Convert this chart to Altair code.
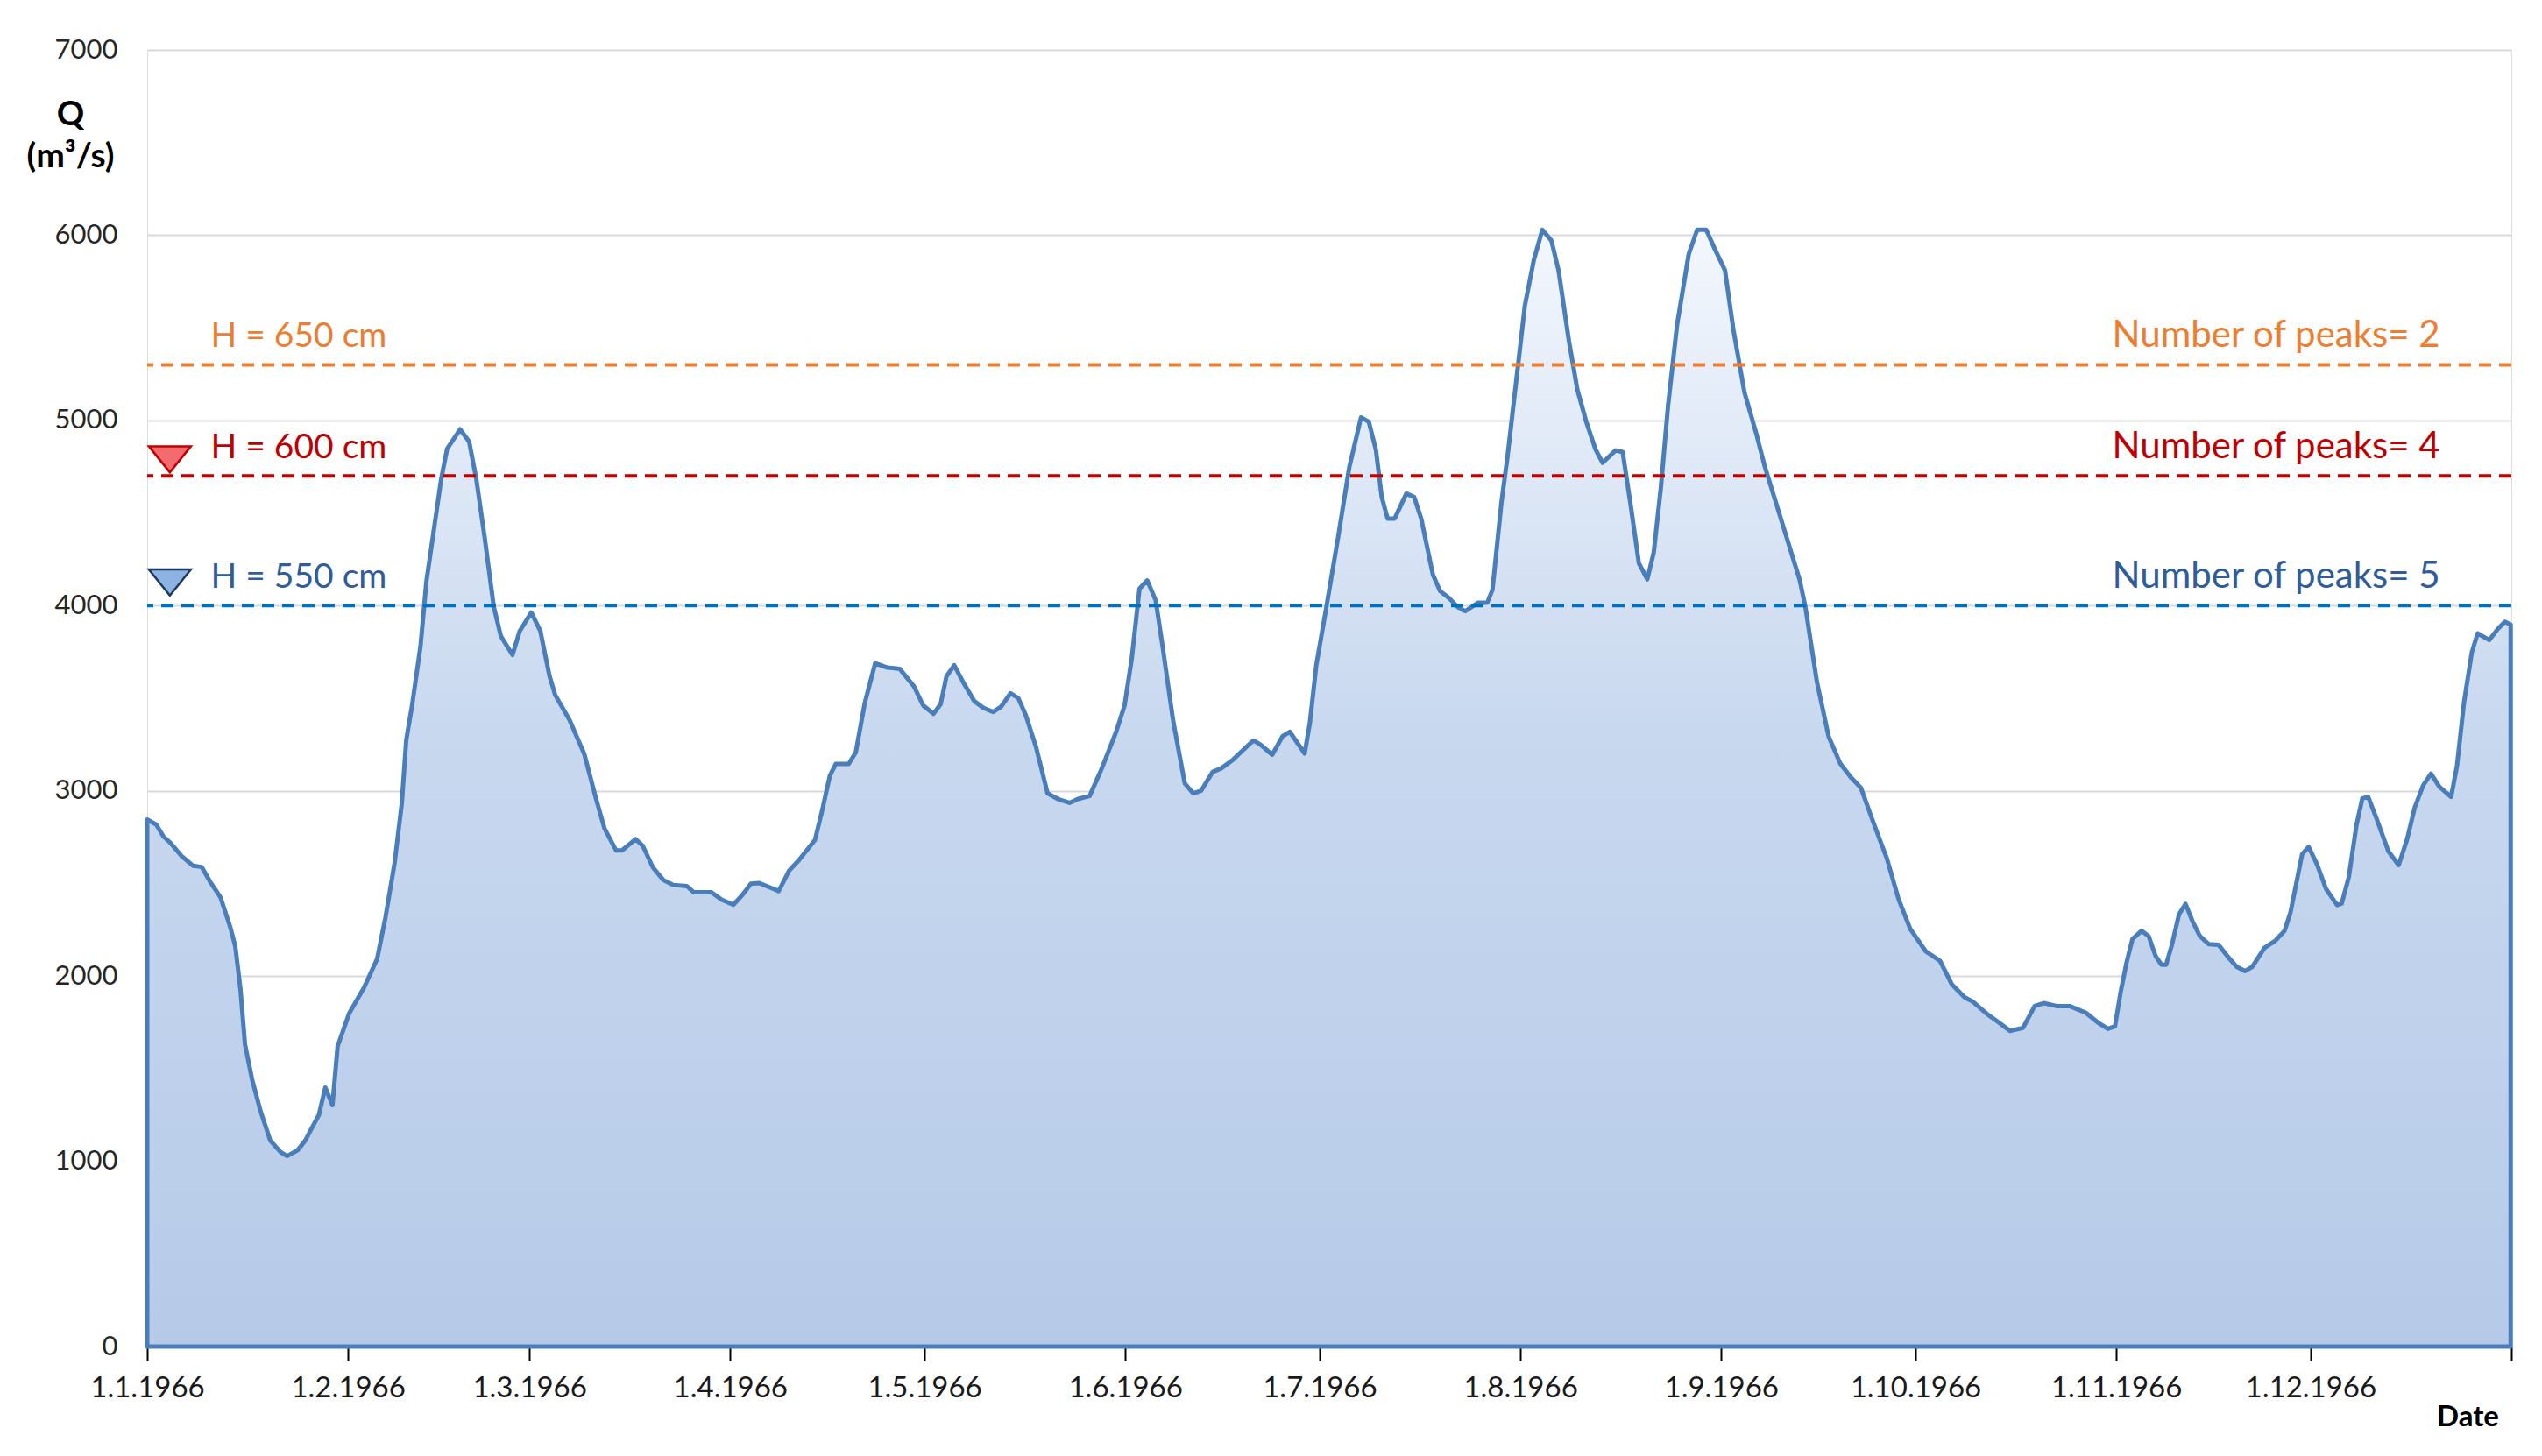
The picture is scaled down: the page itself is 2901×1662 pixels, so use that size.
import altair as alt
import pandas as pd
from datetime import datetime, timezone

# ---- data (day of year 1966, discharge Q in m3/s) ----
day = [0, 1.4, 2.5, 3.5, 5.3, 7.1, 8.4, 9.7, 11.3, 12.8, 13.6, 14.4, 15.1, 16.2, 17.5, 19.0, 20.6, 21.6,
       23.2, 24.4, 25.2, 26.5, 27.5, 28.6, 29.4, 31.2, 33.5, 35.5, 36.8, 38.2, 39.3, 40.0, 40.9, 42.2,
       43.1, 44.3, 45.4, 46.3, 48.3, 49.7, 50.8, 52.1, 53.5, 54.6, 56.4, 57.5, 59.3, 60.7, 62.1, 63.0,
       65.2, 67.5, 69.3, 70.6, 72.4, 73.3, 75.4, 76.5, 78.1, 79.7, 81.2, 83.3, 84.4, 87.1, 88.7, 90.5,
       91.9, 93.2, 94.5, 97.5, 99.1, 100.6, 103.1, 104.2, 105.4, 106.3, 108.3, 109.4, 110.8, 112.4,
       114.2, 116.2, 118.4, 119.8, 121.4, 122.5, 123.4, 124.6, 126.1, 127.7, 129.1, 130.6, 131.8,
       133.3, 134.5, 135.6, 137.2, 139.0, 140.6, 142.4, 143.7, 145.5, 147.3, 149.6, 150.9, 152.0,
       153.2, 154.4, 155.7, 156.8, 158.4, 160.2, 161.5, 162.7, 164.5, 165.8, 167.6, 169.0, 170.8,
       171.9, 173.7, 175.3, 176.4, 178.7, 179.5, 180.5, 182.0, 183.9, 185.6, 187.4, 188.6, 189.7,
       190.6, 191.5, 192.6, 194.4, 195.6, 196.7, 198.5, 199.6, 201.0, 202.3, 203.5, 205.5, 206.9,
       207.7, 209.1, 210.0, 211.4, 212.7, 214.1, 215.4, 216.8, 217.9, 219.5, 220.8, 222.2, 223.6,
       224.7, 226.7, 227.8, 229.0, 230.3, 231.6, 232.6, 233.7, 234.8, 236.2, 238.0, 239.3, 240.7,
       242.0, 243.6, 244.9, 246.6, 248.4, 249.7, 251.5, 253.3, 255.1, 256.0, 257.8, 259.6, 261.4,
       263.0, 264.6, 266.4, 268.6, 270.4, 272.2, 274.6, 276.8, 278.6, 280.6, 281.9, 284.2, 285.8,
       287.6, 289.6, 291.4, 292.8, 294.8, 296.8, 299.3, 301.1, 302.7, 303.8, 304.7, 305.6, 306.5,
       307.9, 309.0, 310.1, 311.0, 311.7, 312.6, 313.7, 314.7, 315.8, 316.9, 318.3, 319.8, 321.2,
       322.6, 323.9, 325.0, 326.9, 328.6, 330.0, 330.9, 332.7, 333.7, 335.0, 336.4, 338.1, 338.8,
       339.9, 341.1, 342.0, 342.9, 344.2, 346.0, 347.6, 348.9, 350.1, 351.4, 352.6, 353.9, 355.7,
       356.6, 357.7, 358.9, 359.8, 361.6, 362.9, 364.0, 364.9]
q = [2845, 2818, 2754, 2722, 2648, 2595, 2589, 2510, 2426, 2267, 2161, 1928, 1631, 1441, 1271, 1112, 1049, 1028,
     1059, 1112, 1165, 1250, 1398, 1303, 1621, 1800, 1939, 2093, 2319, 2611, 2930, 3276, 3462, 3782,
     4128, 4420, 4686, 4846, 4952, 4886, 4686, 4367, 3995, 3835, 3734, 3862, 3963, 3862, 3622, 3516,
     3383, 3197, 2957, 2797, 2678, 2678, 2739, 2704, 2585, 2518, 2492, 2486, 2452, 2452, 2412, 2385,
     2438, 2498, 2502, 2459, 2569, 2625, 2735, 2893, 3082, 3145, 3145, 3208, 3476, 3689,
     3666, 3658, 3563, 3461, 3416, 3468, 3618, 3678, 3579, 3484, 3448, 3426, 3453,
     3527, 3500, 3413, 3240, 2987, 2956, 2935, 2956, 2972, 3114, 3319, 3461, 3713,
     4091, 4136, 4028, 3772, 3377, 3040, 2986, 3000, 3102, 3121, 3167, 3214, 3272,
     3249, 3195, 3295, 3319, 3202, 3365, 3679, 3981, 4377, 4749, 5016, 4993, 4842,
     4586, 4470, 4470, 4605, 4586, 4470, 4167, 4079, 4040, 3993, 3970, 4016, 4016,
     4086, 4563, 4800, 5224, 5620, 5868, 6029, 5971, 5810, 5429, 5166, 4990, 4844,
     4771, 4838, 4829, 4551, 4229, 4142, 4288, 4639, 5078, 5517, 5898, 6029, 6029,
     5927, 5810, 5488, 5151, 4932, 4756, 4551, 4347, 4142, 3995, 3586, 3293, 3147,
     3074, 3015, 2839, 2634, 2415, 2254, 2133, 2082, 1956, 1885, 1861, 1791, 1751,
     1704, 1720, 1838, 1854, 1838, 1838, 1802, 1751, 1715, 1728, 1917, 2074, 2200,
     2244, 2216, 2106, 2061, 2061, 2169, 2334, 2389, 2294, 2216, 2172, 2169, 2106,
     2050, 2027, 2050, 2153, 2192, 2245, 2343, 2658, 2698, 2603, 2470, 2383, 2391,
     2533, 2817, 2959, 2967, 2849, 2675, 2599, 2738, 2912, 3030, 3093, 3022, 2967,
     3132, 3479, 3748, 3850, 3814, 3874, 3913, 3897]

# thresholds
thr_value = [5300, 4700, 4000]
thr_h_label = ["H = 650 cm", "H = 600 cm", "H = 550 cm"]
thr_peaks_label = ["Number of peaks= 2", "Number of peaks= 4", "Number of peaks= 5"]
thr_line_color = ["#ED7D31", "#C00000", "#0070C0"]
thr_text_color = ["#ED7D31", "#C00000", "#2F5C9A"]

y_ticks = [0, 1000, 2000, 3000, 4000, 5000, 6000, 7000]
month_labels = ["1.1.1966", "1.2.1966", "1.3.1966", "1.4.1966", "1.5.1966", "1.6.1966",
                "1.7.1966", "1.8.1966", "1.9.1966", "1.10.1966", "1.11.1966", "1.12.1966"]

FONT = "Lato"
DAY_MS = 86400000


def utc_ms(y, m, d):
    return int(datetime(y, m, d, tzinfo=timezone.utc).timestamp() * 1000)


T0 = utc_ms(1966, 1, 1)
T_END = utc_ms(1967, 1, 1)
tick_values = [utc_ms(1966, m, 1) for m in range(1, 13)] + [T_END]

flow = pd.DataFrame({"day": day, "q": q})
thr = pd.DataFrame({"q": thr_value, "hlab": thr_h_label, "plab": thr_peaks_label,
                    "lc": thr_line_color, "tc": thr_text_color})

date_calc = f"{T0} + datum.day * {DAY_MS}"

x_enc = alt.X(
    "date:T",
    scale=alt.Scale(type="utc", domain=[T0, T_END]),
    axis=alt.Axis(
        values=tick_values,
        labelExpr=f"datum.value >= {T_END} ? '' : utcFormat(datum.value, '%-d.%-m.%Y')",
        title="Date",
        titleFont=FONT, titleFontSize=33, titleFontWeight="bold", titleColor="#000000",
        titleAlign="center", titleBaseline="middle", titleX=2648, titleY=80,
        labelFont=FONT, labelFontSize=33, labelColor="#1a1a1a", labelPadding=15,
        domainColor="#000000", domainWidth=2.5, tickColor="#000000", tickWidth=2, tickSize=16,
        grid=False, labelFlush=False,
    ),
)
y_enc = alt.Y(
    "q:Q",
    scale=alt.Scale(domain=[0, 7000], nice=False),
    axis=alt.Axis(
        values=y_ticks, format="d", title=["Q", "(m³/s)"],
        titleAngle=0, titleAlign="center", titleBaseline="top", titleX=-88, titleY=54,
        titleFont=FONT, titleFontSize=39, titleFontWeight="bold", titleColor="#000000",
        titleLineHeight=48,
        labelFont=FONT, labelFontSize=31, labelColor="#262626", labelPadding=34,
        domain=False, ticks=False, grid=True, gridColor="#d9d9d9", gridWidth=2,
    ),
)

gradient = alt.Gradient(
    gradient="linear",
    stops=[alt.GradientStop(color="#b6cae8", offset=0),
           alt.GradientStop(color="#c8d8ef", offset=0.55),
           alt.GradientStop(color="#f3f7fd", offset=1)],
    x1=1, x2=1, y1=1, y2=0,
)

area = alt.Chart(flow).transform_calculate(date=date_calc).mark_area(
    color=gradient, stroke="#4a7ebb", strokeWidth=5, strokeJoin="round"
).encode(x=x_enc, y=y_enc)

rules = alt.Chart(thr).mark_rule(strokeDash=[14, 9], strokeWidth=4).encode(
    y=alt.Y("q:Q"), color=alt.Color("lc:N", scale=None)
)

h_text = alt.Chart(thr).transform_calculate(date=f"{T0} + 9.8 * {DAY_MS}").mark_text(
    align="left", baseline="alphabetic", dy=-20, font=FONT, fontSize=39
).encode(x="date:T", y="q:Q", text="hlab:N", color=alt.Color("tc:N", scale=None))

p_text = alt.Chart(thr).transform_calculate(date=f"{T0} + 354 * {DAY_MS}").mark_text(
    align="right", baseline="alphabetic", dy=-20, font=FONT, fontSize=42
).encode(x="date:T", y="q:Q", text="plab:N", color=alt.Color("tc:N", scale=None))

# gauge-level triangle markers next to H = 600 cm and H = 550 cm
tri = pd.DataFrame({"day": [3.5, 3.5], "q": [4790, 4125],
                    "fill": ["#F26B6E", "#8DB3E2"], "stroke": ["#C00000", "#1F3864"]})
tri_path = "M-1,-0.62L1,-0.62L0,0.62Z"
triangles = alt.Chart(tri).transform_calculate(date=date_calc).mark_point(
    shape=tri_path, size=2304, filled=True, strokeWidth=2.5, opacity=1
).encode(
    x="date:T", y="q:Q",
    fill=alt.Fill("fill:N", scale=None),
    stroke=alt.Stroke("stroke:N", scale=None),
)

chart = alt.layer(area, rules, h_text, p_text, triangles).properties(
    width=2698, height=1480,
    autosize=alt.AutoSizeParams(type="none"),
    padding={"left": 160, "top": 49, "right": 27, "bottom": 110},
).configure_view(stroke=None).configure(background="#ffffff")

chart.save("out.html", embed_options={"renderer": "svg", "actions": False})
